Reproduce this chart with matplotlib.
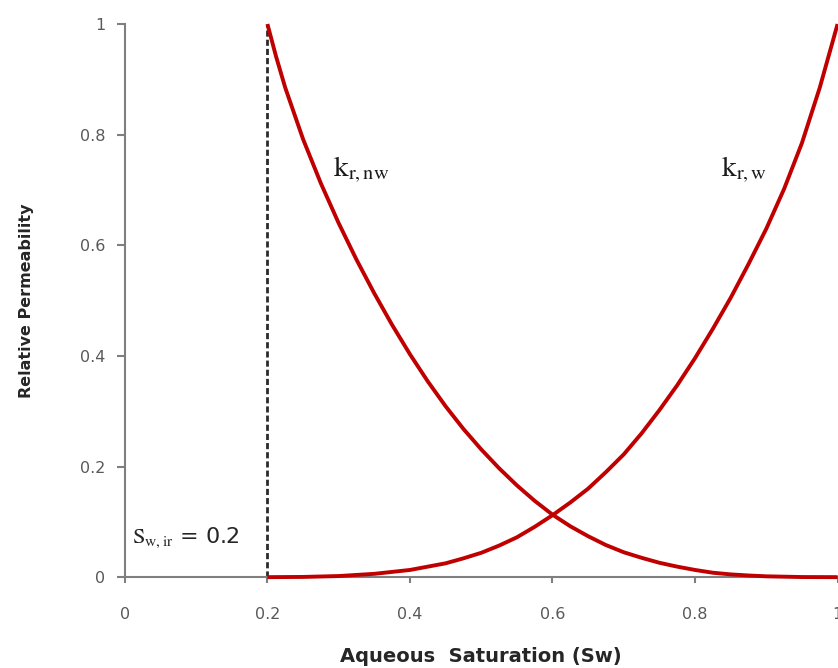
import matplotlib
matplotlib.use("Agg")
import matplotlib.pyplot as plt

# Werte
sw_nw = [0.200, 0.212, 0.225, 0.250, 0.275, 0.300, 0.325, 0.350, 0.375, 0.400,
         0.425, 0.450, 0.475, 0.500, 0.525, 0.550, 0.575, 0.600, 0.625, 0.650,
         0.675, 0.700, 0.725, 0.750, 0.775, 0.800, 0.825, 0.850, 0.875, 0.900,
         0.950, 1.000]
kr_nw = [1.000, 0.942, 0.885, 0.792, 0.712, 0.640, 0.574, 0.513, 0.456, 0.403,
         0.354, 0.309, 0.268, 0.231, 0.197, 0.166, 0.138, 0.113, 0.092, 0.074,
         0.058, 0.045, 0.035, 0.026, 0.019, 0.013, 0.008, 0.005, 0.003, 0.0015,
         0.0002, 0.000]

sw_w = [0.200, 0.250, 0.300, 0.350, 0.400, 0.450, 0.475, 0.500, 0.525, 0.550,
        0.575, 0.600, 0.625, 0.650, 0.675, 0.700, 0.725, 0.750, 0.775, 0.800,
        0.825, 0.850, 0.875, 0.900, 0.925, 0.950, 0.975, 1.000]
kr_w = [0.000, 0.0004, 0.002, 0.006, 0.013, 0.025, 0.034, 0.044, 0.057, 0.072,
        0.091, 0.112, 0.135, 0.160, 0.190, 0.222, 0.260, 0.302, 0.347, 0.396,
        0.449, 0.505, 0.566, 0.630, 0.702, 0.785, 0.885, 1.000]

sw_irr = 0.2
x_ticks = [0, 0.2, 0.4, 0.6, 0.8, 1]
x_tick_labels = ["0", "0.2", "0.4", "0.6", "0.8", "1"]
y_ticks = [0, 0.2, 0.4, 0.6, 0.8, 1]
y_tick_labels = ["0", "0.2", "0.4", "0.6", "0.8", "1"]

plt.rcParams["mathtext.fontset"] = "stix"

fig = plt.figure(figsize=(8.38, 6.68), dpi=100)
ax = fig.add_axes([0.149, 0.136, 0.8505, 0.828])

red = "#c00000"
ax.plot([sw_irr, sw_irr], [0, 1], color="#2b2b2b", lw=2.0,
        ls=(0, (2.2, 1.1)), zorder=2)
ax.plot(sw_nw, kr_nw, color=red, lw=2.8, zorder=3, clip_on=False,
        solid_capstyle="butt", solid_joinstyle="round")
ax.plot(sw_w, kr_w, color=red, lw=2.8, zorder=3, clip_on=False,
        solid_capstyle="butt", solid_joinstyle="round")

ax.set_xlim(0, 1)
ax.set_ylim(0, 1)
ax.set_xticks(x_ticks)
ax.set_xticklabels(x_tick_labels)
ax.set_yticks(y_ticks)
ax.set_yticklabels(y_tick_labels)

for side in ["top", "right"]:
    ax.spines[side].set_visible(False)
for side in ["left", "bottom"]:
    ax.spines[side].set_color("#7f7f7f")
    ax.spines[side].set_linewidth(1.5)

ax.tick_params(axis="y", direction="out", length=6, width=1.5, color="#7f7f7f",
               labelsize=11.5, labelcolor="#595959", pad=8)
ax.tick_params(axis="x", direction="out", length=4.5, width=1.5, color="#7f7f7f",
               labelsize=11.5, labelcolor="#595959", pad=17)

ax.set_xlabel("Aqueous  Saturation (Sw)", fontsize=14, fontweight="bold",
              color="#262626", labelpad=18)
ax.set_ylabel("Relative Permeability", fontsize=11.5, fontweight="bold",
              color="#262626", labelpad=33)

ax.text(0.292, 0.725, r"$\mathrm{k_{r,nw}}$", fontsize=21, color="#1a1a1a")
ax.text(0.836, 0.725, r"$\mathrm{k_{r,w}}$", fontsize=21, color="#1a1a1a")
ax.text(0.01, 0.062, r"$\mathrm{S_{w,ir}}$ = 0.2", fontsize=16,
        color="#262626")

fig.savefig("out.png", dpi=100)
